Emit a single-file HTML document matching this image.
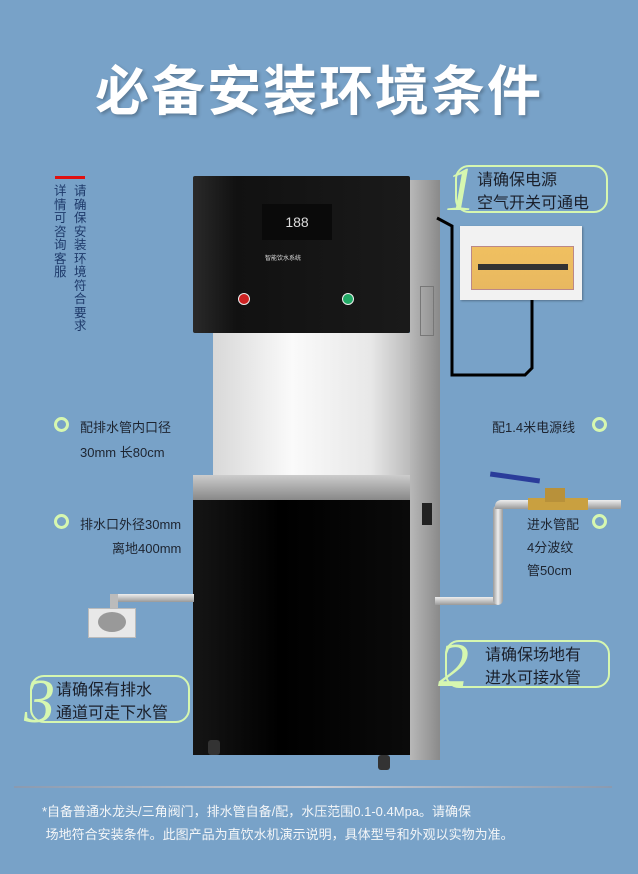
<!DOCTYPE html><html><head><meta charset="utf-8"><style>
body{margin:0;width:638px;height:874px;background:#78a2c8;position:relative;overflow:hidden;font-family:"Liberation Sans","Noto Sans CJK SC",sans-serif}
div{position:absolute;box-sizing:border-box}
.t{color:#1d2430;font-size:13px;white-space:nowrap}
.c{width:15px;height:15px;border:3px solid #d6f7b0;border-radius:50%}
.b{border:2px solid #d6f7b0;border-radius:14px;color:#1a1f2a;font-size:16px;line-height:23px;padding:2px 0 0 0}
.n{color:#d6f7b0;font-family:"Liberation Serif",serif;font-style:italic;font-size:62px;line-height:60px}
</style></head><body>
<div style="left:0;top:47px;width:638px;text-align:center;color:#fff;font-size:54px;font-weight:bold;letter-spacing:2px;text-shadow:2px 2px 3px rgba(0,0,0,.25)">必备安装环境条件</div>
<div style="left:55px;top:176px;width:30px;height:3px;background:#e01010"></div>
<div style="left:54px;top:185px;width:13px;font-size:12.5px;line-height:13.5px;color:#1e3a6a">详情可咨询客服</div>
<div style="left:74px;top:185px;width:13px;font-size:12.5px;line-height:13.5px;color:#1e3a6a">请确保安装环境符合要求</div>
<!-- machine -->
<div style="left:410px;top:180px;width:30px;height:580px;background:linear-gradient(90deg,#b8b8b8,#8a8a8a)"></div>
<div style="left:420px;top:286px;width:14px;height:50px;border:1px solid #777"></div>
<div style="left:422px;top:503px;width:10px;height:22px;background:#222"></div>
<div style="left:213px;top:333px;width:197px;height:142px;background:linear-gradient(90deg,#d8d8d8,#fafafa 40%,#e8e8e8 80%,#bbb)"></div>
<div style="left:193px;top:176px;width:217px;height:157px;background:linear-gradient(90deg,#2a2a2a,#111 20%,#1a1a1a);border-radius:2px"></div>
<div style="left:262px;top:204px;width:70px;height:36px;background:#0a0a0a;color:#ddd;font-size:14px;text-align:center;line-height:36px">188</div>
<div style="left:265px;top:253px;color:#ddd;font-size:6px">智能饮水系统</div>
<div style="left:238px;top:293px;width:12px;height:12px;border-radius:50%;background:#c22;border:1px solid #eee"></div>
<div style="left:342px;top:293px;width:12px;height:12px;border-radius:50%;background:#2a6;border:1px solid #eee"></div>
<div style="left:193px;top:475px;width:217px;height:280px;background:linear-gradient(90deg,#151515,#000 40%,#0a0a0a)"></div>
<div style="left:193px;top:475px;width:217px;height:25px;background:linear-gradient(180deg,#ccc,#888)"></div>
<div style="left:208px;top:740px;width:12px;height:15px;background:#333;border-radius:3px"></div>
<div style="left:378px;top:755px;width:12px;height:15px;background:#333;border-radius:3px"></div>
<!-- drain -->
<div style="left:112px;top:594px;width:82px;height:8px;background:linear-gradient(180deg,#eee,#999)"></div>
<div style="left:110px;top:594px;width:8px;height:18px;background:#bbb"></div>
<div style="left:88px;top:608px;width:48px;height:30px;background:#e8e8e8;border:1px solid #bbb"></div>
<div style="left:98px;top:612px;width:28px;height:20px;background:#999;border-radius:50%"></div>
<!-- inlet -->
<div style="left:435px;top:597px;width:62px;height:8px;background:linear-gradient(180deg,#eee,#999)"></div>
<div style="left:493px;top:505px;width:10px;height:100px;background:linear-gradient(90deg,#999,#eee,#999);border-radius:8px"></div>
<div style="left:495px;top:500px;width:126px;height:9px;background:linear-gradient(180deg,#eee,#999);border-radius:6px 0 0 0"></div>
<div style="left:528px;top:498px;width:60px;height:12px;background:#c9a040"></div>
<div style="left:545px;top:488px;width:20px;height:14px;background:#b8913a"></div>
<div style="left:490px;top:475px;width:50px;height:5px;background:#2a3c9a;transform:rotate(8deg)"></div>
<!-- power -->
<svg style="position:absolute;left:0;top:0" width="638" height="874"><polyline points="437,218 452,226 452,375 525,375 532,368 532,300" fill="none" stroke="#000" stroke-width="3"/></svg>
<div style="left:460px;top:226px;width:122px;height:74px;background:#f2f2f2;box-shadow:1px 1px 2px rgba(0,0,0,.3)"></div>
<div style="left:471px;top:246px;width:103px;height:44px;background:linear-gradient(180deg,#f0c060,#e8b860);border:1px solid #b88"></div>
<div style="left:478px;top:264px;width:90px;height:6px;background:#333"></div>
<!-- bubbles -->
<div class="b" style="left:455px;top:165px;width:153px;height:48px;padding-left:20px">请确保电源<br>空气开关可通电</div>
<div class="n" style="left:445px;top:160px">1</div>
<div class="b" style="left:445px;top:640px;width:165px;height:48px;padding-left:38px">请确保场地有<br>进水可接水管</div>
<div class="n" style="left:438px;top:636px">2</div>
<div class="b" style="left:30px;top:675px;width:160px;height:48px;padding-left:24px">请确保有排水<br>通道可走下水管</div>
<div class="n" style="left:24px;top:672px">3</div>
<!-- notes -->
<div class="c" style="left:54px;top:417px"></div>
<div class="t" style="left:80px;top:417px">配排水管内口径</div>
<div class="t" style="left:80px;top:442px">30mm 长80cm</div>
<div class="c" style="left:54px;top:514px"></div>
<div class="t" style="left:80px;top:514px">排水口外径30mm</div>
<div class="t" style="left:112px;top:538px">离地400mm</div>
<div class="t" style="left:492px;top:417px">配1.4米电源线</div>
<div class="c" style="left:592px;top:417px"></div>
<div class="c" style="left:592px;top:514px"></div>
<div class="t" style="left:527px;top:514px">进水管配</div>
<div class="t" style="left:527px;top:537px">4分波纹</div>
<div class="t" style="left:527px;top:560px">管50cm</div>
<div style="left:14px;top:786px;width:598px;height:2px;background:linear-gradient(90deg,#8a9ab0,#c8ccd4,#8a9ab0)"></div>
<div style="left:42px;top:800px;color:#f4f6f8;font-size:13px;line-height:23px;white-space:nowrap">*自备普通水龙头/三角阀门，排水管自备/配，水压范围0.1-0.4Mpa。请确保<br>&nbsp;场地符合安装条件。此图产品为直饮水机演示说明，具体型号和外观以实物为准。</div>
</body></html>
